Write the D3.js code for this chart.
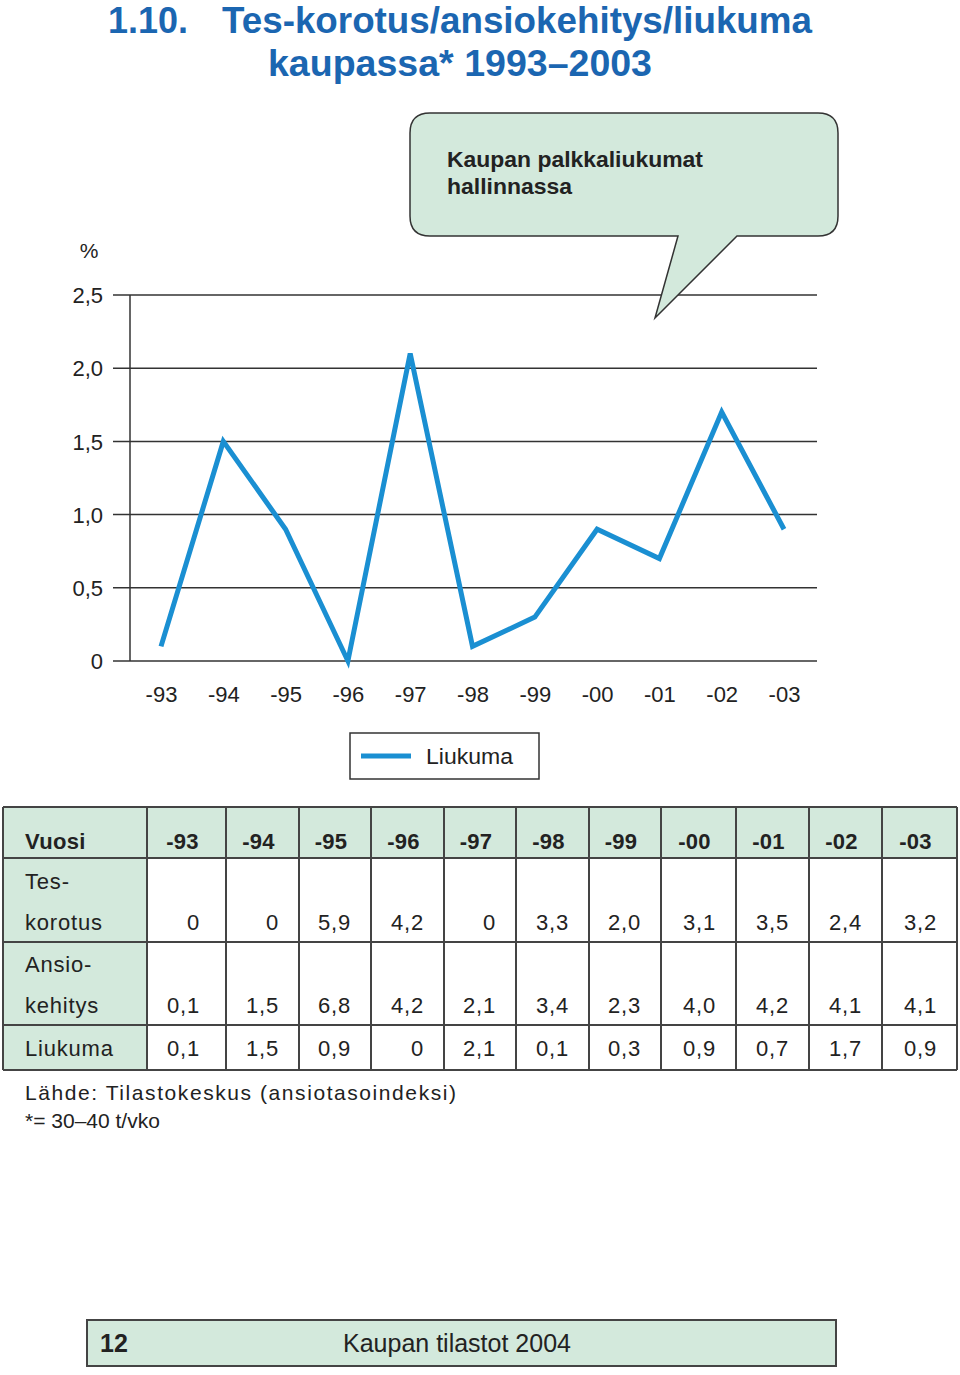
<!DOCTYPE html>
<html><head><meta charset="utf-8">
<script src="https://cdn.jsdelivr.net/npm/d3@7"></script>
<style>
body{margin:0;background:#fff;}
svg{display:block;font-family:"Liberation Sans",Arial,sans-serif;}
</style></head>
<body>
<script>
const years = ["-93","-94","-95","-96","-97","-98","-99","-00","-01","-02","-03"];
const tesKorotus = [0,0,5.9,4.2,0,3.3,2.0,3.1,3.5,2.4,3.2];
const ansiokehitys = [0.1,1.5,6.8,4.2,2.1,3.4,2.3,4.0,4.2,4.1,4.1];
const liukuma = [0.1,1.5,0.9,0,2.1,0.1,0.3,0.9,0.7,1.7,0.9];
const yTicks = [0,0.5,1.0,1.5,2.0,2.5];
const tableRows = [
  {label:["Tes-","korotus"], values: tesKorotus},
  {label:["Ansio-","kehitys"], values: ansiokehitys},
  {label:["Liukuma"], values: liukuma}
];

const W=960,H=1375;
const green="#d3e9dc", blue="#1a8fd2", titleBlue="#1b66b1", ink="#222";
const fmt = v => v===0 ? "0" : d3.format(".1f")(v).replace(".",",");

const svg=d3.select("body").append("svg").attr("width",W).attr("height",H);

// Title
const tf = 'font-family:"Liberation Sans Narrow","Liberation Sans",Arial,sans-serif;font-weight:bold;';
svg.append("text").attr("x",108).attr("y",33).attr("style",tf).attr("font-size",37).attr("fill",titleBlue)
  .attr("textLength",80).attr("lengthAdjust","spacingAndGlyphs").text("1.10.");
svg.append("text").attr("x",222).attr("y",33).attr("style",tf).attr("font-size",37).attr("fill",titleBlue)
  .attr("textLength",590).attr("lengthAdjust","spacingAndGlyphs").text("Tes-korotus/ansiokehitys/liukuma");
svg.append("text").attr("x",268).attr("y",76).attr("style",tf).attr("font-size",37).attr("fill",titleBlue)
  .attr("textLength",384).attr("lengthAdjust","spacingAndGlyphs").text("kaupassa*  1993–2003");

// Scales
const x=d3.scalePoint().domain(years).range([161,784]);
const y=d3.scaleLinear().domain([0,2.5]).range([661,295]);

// Gridlines
const g=svg.append("g");
g.selectAll("line.grid").data(yTicks).join("line").attr("class","grid")
  .attr("x1",113).attr("x2",817).attr("y1",d=>y(d)).attr("y2",d=>y(d))
  .attr("stroke","#333").attr("stroke-width",1.5);
g.append("line").attr("x1",130).attr("x2",130).attr("y1",y(2.5)).attr("y2",y(0)).attr("stroke","#333").attr("stroke-width",1.5);

// Y axis labels
const yAxis=d3.axisLeft(y).tickValues(yTicks).tickSize(0).tickPadding(0).tickFormat(fmt);
const ya=svg.append("g").attr("transform","translate(103,0)").call(yAxis);
ya.select(".domain").remove();
ya.selectAll("text").attr("font-size",22).attr("fill",ink).attr("font-family","Liberation Sans, Arial, sans-serif").attr("dy","0.35em");
svg.append("text").attr("x",89).attr("y",258).attr("text-anchor","middle").attr("font-size",21).attr("fill",ink).text("%");

// X axis labels
const xAxis=d3.axisBottom(x).tickSize(0).tickPadding(0);
const xa=svg.append("g").attr("transform","translate(0,694)").call(xAxis);
xa.select(".domain").remove();
xa.selectAll("text").attr("font-size",22).attr("fill",ink).attr("font-family","Liberation Sans, Arial, sans-serif").attr("dy","0.35em");

// Callout
const cx0=410,cx1=838,cy0=113,cy1=236,r=20;
const tail=[[678,cy1],[655,318],[737,cy1]];
const path=`M${cx0+r},${cy0} H${cx1-r} Q${cx1},${cy0} ${cx1},${cy0+r} V${cy1-r} Q${cx1},${cy1} ${cx1-r},${cy1}
 H${tail[2][0]} L${tail[1][0]},${tail[1][1]} L${tail[0][0]},${cy1} H${cx0+r} Q${cx0},${cy1} ${cx0},${cy1-r} V${cy0+r} Q${cx0},${cy0} ${cx0+r},${cy0} Z`;
svg.append("path").attr("d",path).attr("fill",green).attr("stroke","#333").attr("stroke-width",1.5);
svg.append("text").attr("x",447).attr("y",167).attr("font-size",22).attr("font-weight","bold").attr("fill",ink)
  .attr("textLength",256).attr("lengthAdjust","spacingAndGlyphs").text("Kaupan palkkaliukumat");
svg.append("text").attr("x",447).attr("y",194).attr("font-size",22).attr("font-weight","bold").attr("fill",ink)
  .attr("textLength",125).attr("lengthAdjust","spacingAndGlyphs").text("hallinnassa");

// Line
svg.append("path").datum(liukuma)
  .attr("d",d3.line().x((d,i)=>x(years[i])).y(d=>y(d)))
  .attr("fill","none").attr("stroke",blue).attr("stroke-width",5).attr("stroke-linejoin","miter");

// Legend
svg.append("rect").attr("x",350).attr("y",733).attr("width",189).attr("height",46).attr("fill","#fff").attr("stroke","#333").attr("stroke-width",1.5);
svg.append("line").attr("x1",361).attr("x2",411).attr("y1",756).attr("y2",756).attr("stroke",blue).attr("stroke-width",5);
svg.append("text").attr("x",426).attr("y",764).attr("font-size",22).attr("fill",ink)
  .attr("textLength",87).attr("lengthAdjust","spacingAndGlyphs").text("Liukuma");

// Table
const colEdges=[3,147,226,299,371,444,516,589,661,736,809,882,957];
const rowEdges=[807,858,942,1025,1070];
const t=svg.append("g");
t.append("rect").attr("x",3).attr("y",rowEdges[0]).attr("width",954).attr("height",rowEdges[1]-rowEdges[0]).attr("fill",green);
t.append("rect").attr("x",3).attr("y",rowEdges[0]).attr("width",144).attr("height",rowEdges[4]-rowEdges[0]).attr("fill",green);
t.selectAll("line.v").data(colEdges).join("line").attr("class","v")
  .attr("x1",d=>d).attr("x2",d=>d).attr("y1",rowEdges[0]).attr("y2",rowEdges[4]).attr("stroke","#444").attr("stroke-width",2);
t.selectAll("line.h").data(rowEdges).join("line").attr("class","h")
  .attr("x1",3).attr("x2",957).attr("y1",d=>d).attr("y2",d=>d).attr("stroke","#444").attr("stroke-width",2);
t.append("text").attr("x",25).attr("y",849).attr("font-size",22).attr("font-weight","bold").attr("fill",ink).attr("letter-spacing",0.3).text("Vuosi");
t.selectAll("text.yr").data(years).join("text").attr("class","yr")
  .attr("x",(d,i)=>(colEdges[i+1]+colEdges[i+2])/2-4).attr("y",849).attr("text-anchor","middle")
  .attr("font-size",22).attr("font-weight","bold").attr("fill",ink).attr("letter-spacing",0.3).text(d=>d);
const rowBase=[930,1013,1056];
tableRows.forEach((row,ri)=>{
  const base=rowBase[ri];
  row.label.forEach((l,li)=>{
    t.append("text").attr("x",25).attr("y",base-(row.label.length-1-li)*41).attr("font-size",22)
      .attr("fill",ink).attr("letter-spacing",0.8).text(l);
  });
  t.selectAll("text.r"+ri).data(row.values).join("text").attr("class","r"+ri)
    .attr("x",(d,i)=>colEdges[i+2]-(i===0?26:20)).attr("y",base).attr("text-anchor","end")
    .attr("font-size",22).attr("fill",ink).attr("letter-spacing",0.8).text(d=>fmt(d));
});

// Source
svg.append("text").attr("x",25).attr("y",1100).attr("font-size",21).attr("fill",ink)
  .attr("textLength",431).attr("lengthAdjust","spacing").text("Lähde: Tilastokeskus (ansiotasoindeksi)");
svg.append("text").attr("x",25).attr("y",1128).attr("font-size",21).attr("fill",ink).text("*= 30–40 t/vko");

// Footer
svg.append("rect").attr("x",87).attr("y",1320).attr("width",749).attr("height",46).attr("fill",green).attr("stroke","#444").attr("stroke-width",2);
svg.append("text").attr("x",100).attr("y",1352).attr("style",tf).attr("font-size",25).attr("fill",ink).text("12");
svg.append("text").attr("x",343).attr("y",1352).attr("style",tf.replace("font-weight:bold;","")).attr("font-size",25).attr("fill",ink)
  .attr("textLength",228).attr("lengthAdjust","spacingAndGlyphs").text("Kaupan tilastot 2004");
</script>
</body></html>
